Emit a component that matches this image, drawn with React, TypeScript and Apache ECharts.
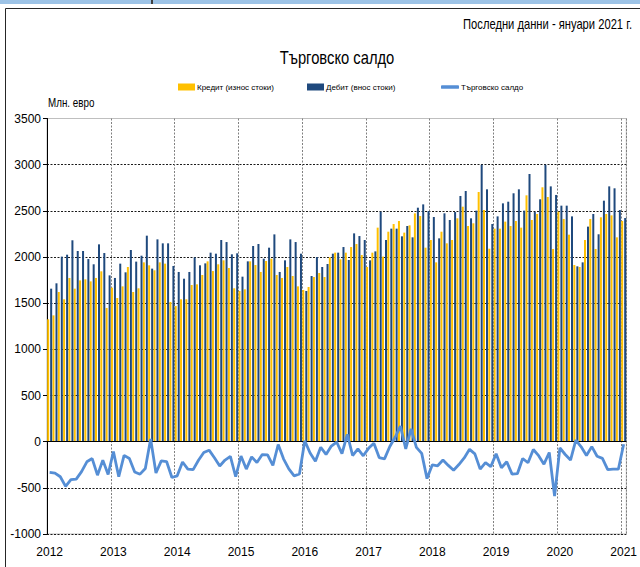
import React, { useEffect, useRef } from 'react';
import * as echarts from 'echarts';

const years = ['2012', '2013', '2014', '2015', '2016', '2017', '2018', '2019', '2020', '2021'];
const months = ['01', '02', '03', '04', '05', '06', '07', '08', '09', '10', '11', '12'];

// Кредит (износ стоки), млн. евро
const credit = [
  1325, 1368, 1621, 1542, 1773, 1657, 1747, 1758, 1736, 1773, 1845, 1448,
  1668, 1556, 1682, 1892, 1621, 1661, 1942, 1910, 1856, 1942, 1928, 1513,
  1469, 1542, 1542, 1697, 1704, 1805, 1953, 1848, 1921, 1964, 1881, 1661,
  1632, 1650, 1953, 1913, 1838, 1957, 1982, 1805, 1773, 1892, 1794, 1682,
  1643, 1675, 1783, 1827, 1783, 1996, 2047, 1975, 2047, 2108, 2141, 2022,
  1892, 2047, 2318, 2004, 2274, 2357, 2390, 2264, 2343, 2473, 2444, 2101,
  2184, 1942, 2274, 2148, 2184, 2419, 2545, 2336, 2365, 2704, 2509, 2090,
  2307, 2307, 2383, 2336, 2390, 2318, 2668, 2401, 2466, 2755, 2650, 2087,
  2491, 2412, 2242, 1913, 1892, 2184, 2412, 2087, 2430, 2466, 2451, 2213,
  2390,
];

// Дебит (внос стоки), млн. евро
const debit = [
  1657, 1715, 2004, 2025, 2181, 2065, 2065, 1978, 1921, 2137, 2043, 1801,
  1773, 1928, 1834, 2076, 1950, 2014, 2231, 1874, 2191, 2148, 2148, 1903,
  1838, 1765, 1838, 1996, 1910, 1931, 2047, 2036, 2184, 2162, 2029, 2040,
  1787, 1953, 2119, 2141, 1982, 2101, 2245, 1838, 1964, 2191, 2162, 2036,
  1632, 1794, 2000, 1892, 1924, 2036, 2047, 2108, 1968, 2256, 2227, 2184,
  1964, 2061, 2491, 2184, 2307, 2307, 2224, 2336, 2213, 2534, 2570, 2498,
  2433, 2202, 2473, 2401, 2487, 2661, 2715, 2419, 2502, 3000, 2733, 2357,
  2440, 2581, 2599, 2690, 2733, 2502, 2899, 2487, 2625, 3000, 2765, 2672,
  2556, 2556, 2440, 1899, 1942, 2329, 2466, 2246, 2610, 2765, 2744, 2509,
  2422,
];

// Търговско салдо, млн. евро
const balance = [
  -333, -340, -380, -485, -410, -405, -325, -218, -183, -363, -200, -355,
  -107, -380, -148, -183, -328, -352, -290, 30, -340, -208, -215, -388,
  -370, -220, -297, -303, -202, -118, -92, -175, -264, -199, -160, -380,
  -155, -297, -165, -226, -140, -142, -258, -31, -186, -295, -370, -350,
  10, -123, -212, -60, -138, -47, -4, -130, 80, -150, -79, -153,
  -72, -16, -172, -186, -52, 48, 168, -78, 138, -62, -127, -400,
  -251, -261, -199, -257, -309, -248, -176, -83, -132, -297, -226, -270,
  -130, -282, -217, -352, -347, -182, -228, -85, -152, -244, -117, -590,
  -68, -139, -199, 16, -56, -150, -54, -158, -181, -303, -297, -298,
  -28,
];

const seriesNames = ['Кредит (износ стоки)', 'Дебит (внос стоки)', 'Търговско салдо'];
const titleText = 'Търговско салдо';
const noteText = 'Последни данни - януари 2021 г.';
const unitText = 'Млн. евро';

const FONT = "'Liberation Sans', Arial, sans-serif";

export default function App() {
  const ref = useRef<HTMLDivElement>(null);

  useEffect(() => {
    if (!ref.current) return;
    const chart = echarts.init(ref.current, undefined, { renderer: 'svg' });
    const categories = years
      .flatMap((y) => months.map((m) => `${y}-${m}`))
      .slice(0, credit.length);
    const isJan = (i: number) => i % 12 === 0;
    const legendText = { fontSize: 8, color: '#000', fontFamily: FONT, padding: [0, 0, 0, -3] };

    chart.setOption({
      animation: false,
      backgroundColor: '#ffffff',
      textStyle: { fontFamily: FONT },
      grid: {
        left: 47,
        right: 9,
        top: 118.5,
        bottom: 33,
        show: true,
        borderColor: '#bfbfbf',
        borderWidth: 1,
      },
      legend: [
        {
          data: [{ name: seriesNames[0], icon: 'rect' }],
          left: 178,
          top: 83,
          padding: 0,
          itemWidth: 17,
          itemHeight: 7,
          textStyle: legendText,
        },
        {
          data: [{ name: seriesNames[1], icon: 'rect' }],
          left: 307,
          top: 83,
          padding: 0,
          itemWidth: 17,
          itemHeight: 7,
          textStyle: legendText,
        },
        {
          data: [{ name: seriesNames[2], icon: 'roundRect' }],
          left: 441,
          top: 83,
          padding: 0,
          itemWidth: 18,
          itemHeight: 3.5,
          textStyle: legendText,
        },
      ],
      xAxis: {
        type: 'category',
        data: categories,
        boundaryGap: true,
        axisLine: { show: false },
        axisTick: { show: false },
        axisLabel: {
          interval: (i: number) => isJan(i),
          formatter: (v: string) => v.slice(0, 4),
          fontSize: 12,
          color: '#000',
          margin: 12,
          fontFamily: FONT,
        },
        splitLine: {
          show: true,
          interval: (i: number) => isJan(i),
          lineStyle: { color: '#808080', type: [2, 1.5], width: 1 },
        },
      },
      yAxis: {
        type: 'value',
        min: -1000,
        max: 3500,
        interval: 500,
        axisLine: { show: true, lineStyle: { color: '#000', width: 1 } },
        axisTick: { show: true, length: 4, lineStyle: { color: '#000' } },
        axisLabel: {
          fontSize: 12,
          color: '#000',
          margin: 6,
          fontFamily: FONT,
          formatter: (v: number) => String(v),
        },
        splitLine: {
          show: true,
          lineStyle: {
            color: ['#1a1a1a', '#1a1a1a', '#1a1a1a', '#1a1a1a', '#1a1a1a', '#1a1a1a', '#1a1a1a', '#1a1a1a', '#1a1a1a', '#bfbfbf'],
            type: [2, 1.5],
            width: 1.2,
          },
        },
      },
      series: [
        {
          name: seriesNames[0],
          type: 'bar',
          data: credit,
          barWidth: 2,
          barGap: '50%',
          itemStyle: { color: '#FFC000' },
          markLine: {
            silent: true,
            symbol: 'none',
            label: { show: false },
            lineStyle: { color: '#000', type: 'solid', width: 1.2 },
            data: [{ yAxis: 0 }],
          },
        },
        {
          name: seriesNames[1],
          type: 'bar',
          data: debit,
          barWidth: 2,
          itemStyle: { color: '#1F497D' },
        },
        {
          name: seriesNames[2],
          type: 'line',
          data: balance,
          symbol: 'none',
          z: 5,
          lineStyle: { color: '#558ED5', width: 2.8 },
          itemStyle: { color: '#558ED5' },
        },
      ],
      graphic: [
        { type: 'rect', shape: { x: 0, y: 0, width: 640, height: 4 }, style: { fill: '#9DC3E6' }, silent: true },
        { type: 'rect', shape: { x: 151, y: 0, width: 2, height: 4 }, style: { fill: '#404040' }, silent: true },
        {
          type: 'rect',
          shape: { x: 5.5, y: 8.5, width: 700, height: 700 },
          style: { fill: 'none', stroke: '#262626', lineWidth: 1 },
          silent: true,
        },
        {
          type: 'text',
          x: 632,
          y: 25,
          scaleX: 0.8,
          style: { text: noteText, fontSize: 14, fill: '#000', align: 'right', verticalAlign: 'middle', fontFamily: FONT },
        },
        {
          type: 'text',
          x: 337,
          y: 57,
          scaleX: 0.82,
          style: { text: titleText, fontSize: 18, fill: '#000', align: 'center', verticalAlign: 'middle', fontFamily: FONT },
        },
        {
          type: 'text',
          x: 48,
          y: 103,
          scaleX: 0.82,
          style: { text: unitText, fontSize: 12, fill: '#000', align: 'left', verticalAlign: 'middle', fontFamily: FONT },
        },
      ],
    });
    return () => chart.dispose();
  }, []);

  return (
    <div
      ref={ref}
      style={{ position: 'absolute', left: 0, top: 0, width: 640, height: 567, background: '#fff' }}
    />
  );
}
